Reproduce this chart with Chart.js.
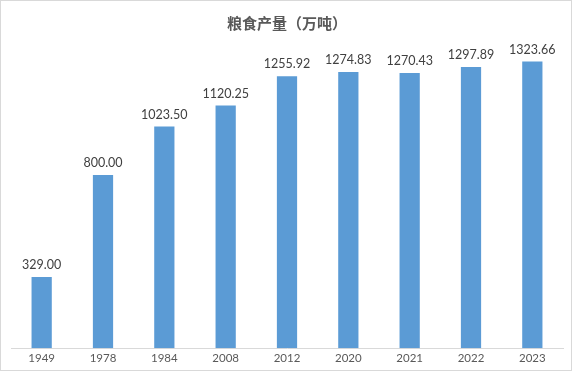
<!DOCTYPE html>
<html><head><meta charset="utf-8">
<script src="https://cdn.jsdelivr.net/npm/chart.js@4/dist/chart.umd.min.js"></script>
<style>
html,body{margin:0;padding:0;background:#fff;}
#wrap{width:570px;height:369px;border:1px solid #d9d9d9;position:relative;}
</style></head><body>
<div id="wrap"><canvas id="c" width="570" height="369"></canvas></div>
<script>
const categories = ["1949","1978","1984","2008","2012","2020","2021","2022","2023"];
const values = [329.00, 800.00, 1023.50, 1120.25, 1255.92, 1274.83, 1270.43, 1297.89, 1323.66];
const titleText = "粮食产量（万吨）";

const labelPlugin = {
  id: 'barLabels',
  afterDatasetsDraw(chart) {
    const ctx = chart.ctx;
    const meta = chart.getDatasetMeta(0);
    ctx.save();
    ctx.font = '12.5px Lato, "Liberation Sans", sans-serif';
    ctx.fillStyle = '#404040';
    ctx.textAlign = 'center';
    ctx.textBaseline = 'alphabetic';
    meta.data.forEach((bar, i) => {
      ctx.fillText(chart.data.datasets[0].data[i].toFixed(2), bar.x, bar.y - 8);
    });
    ctx.restore();
  }
};

new Chart(document.getElementById('c'), {
  type: 'bar',
  data: {
    labels: categories,
    datasets: [{
      data: values,
      backgroundColor: '#5B9BD5',
      categoryPercentage: 1.0,
      barPercentage: 0.33
    }]
  },
  options: {
    responsive: false,
    animation: false,
    devicePixelRatio: 1,
    layout: { padding: { left: 10, right: 8, top: 0, bottom: 2 } },
    plugins: {
      legend: { display: false },
      tooltip: { enabled: false },
      title: {
        display: true,
        text: titleText,
        color: '#595959',
        font: { family: '"Noto Sans CJK SC", sans-serif', size: 15, weight: 'bold' },
        padding: { top: 13, bottom: 13 }
      }
    },
    scales: {
      x: {
        grid: { display: false, drawTicks: false },
        border: { display: true, color: '#d9d9d9', width: 1 },
        ticks: { color: '#595959', font: { family: 'Lato, "Liberation Sans", sans-serif', size: 11.5 }, padding: 3 }
      },
      y: {
        display: false,
        min: 0,
        max: 1400
      }
    }
  },
  plugins: [labelPlugin]
});
</script>
</body></html>
